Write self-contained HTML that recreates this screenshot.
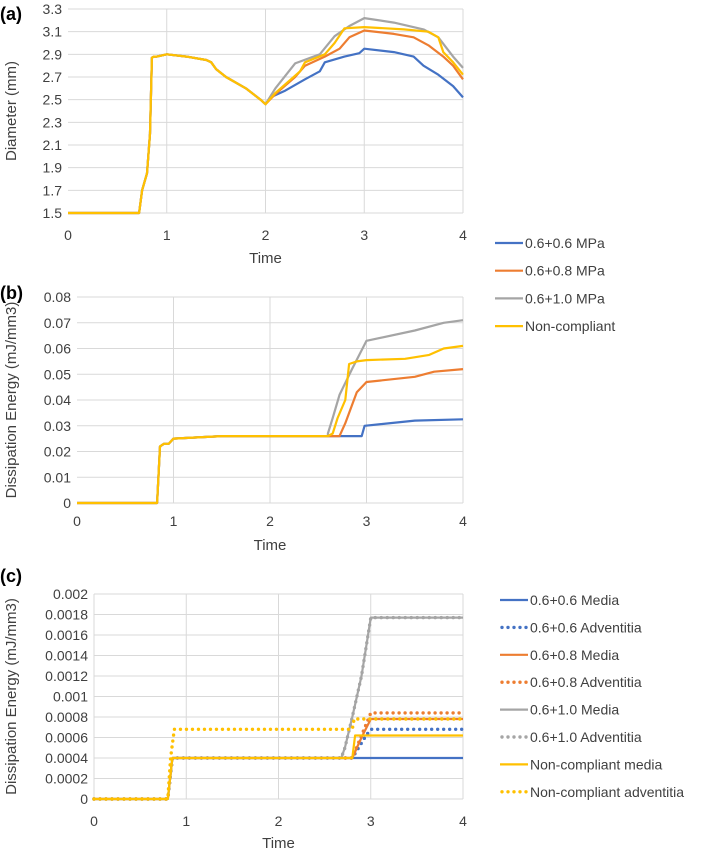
<!DOCTYPE html>
<html><head><meta charset="utf-8"><style>
body{margin:0;background:#fff;}
svg{display:block;font-family:"Liberation Sans",sans-serif;}
</style></head><body>
<svg id="fig" width="709" height="855" viewBox="0 0 709 855"></svg>
<script>
// ----- Panel (a) data: Diameter (mm) -----
const aTimeCommon=[0,0.72,0.75,0.8,0.83,0.85,0.87,0.9,1.0,1.2,1.4,1.45,1.5,1.6,1.8,1.95,2.0];
const aValCommon=[1.5,1.5,1.7,1.85,2.2,2.87,2.88,2.88,2.9,2.88,2.85,2.83,2.77,2.7,2.6,2.5,2.46];
const aBlueT=[2.05,2.2,2.4,2.55,2.6,2.8,2.95,3.0,3.3,3.5,3.6,3.75,3.9,4.0];
const aBlueV=[2.52,2.58,2.68,2.75,2.83,2.88,2.91,2.95,2.92,2.88,2.8,2.72,2.62,2.52];
const aOrangeT=[2.1,2.3,2.4,2.6,2.75,2.85,3.0,3.3,3.5,3.65,3.8,3.9,4.0];
const aOrangeV=[2.55,2.7,2.8,2.88,2.95,3.05,3.11,3.08,3.05,2.98,2.88,2.8,2.68];
const aGrayT=[2.1,2.3,2.55,2.7,2.85,3.0,3.3,3.6,3.75,3.9,4.0];
const aGrayV=[2.6,2.82,2.9,3.06,3.15,3.22,3.18,3.12,3.05,2.88,2.78];
const aYellowT=[2.1,2.35,2.4,2.6,2.7,2.8,3.0,3.4,3.65,3.75,3.8,3.9,4.0];
const aYellowV=[2.56,2.75,2.83,2.9,3.0,3.13,3.14,3.12,3.1,3.05,2.92,2.83,2.72];
const aYTicks=[1.5,1.7,1.9,2.1,2.3,2.5,2.7,2.9,3.1,3.3];
// ----- Panel (b) data: Dissipation energy -----
const bTimeCommon=[0,0.83,0.86,0.9,0.95,1.0,1.5,2.6];
const bValCommon=[0,0,0.022,0.023,0.023,0.025,0.026,0.026];
const bBlueT=[2.95,2.98,3.5,4];
const bBlueV=[0.026,0.030,0.032,0.0325];
const bOrangeT=[2.72,2.78,2.85,2.9,3.0,3.5,3.7,4];
const bOrangeV=[0.026,0.031,0.038,0.043,0.047,0.049,0.051,0.052];
const bGrayT=[2.6,2.65,2.72,2.85,3.0,3.5,3.8,4];
const bGrayV=[0.027,0.033,0.042,0.052,0.063,0.067,0.070,0.071];
const bYellowT=[2.65,2.7,2.78,2.82,2.9,3.0,3.4,3.65,3.8,4];
const bYellowV=[0.027,0.033,0.04,0.054,0.055,0.0555,0.056,0.0575,0.060,0.061];
const bYTicks=[0,0.01,0.02,0.03,0.04,0.05,0.06,0.07,0.08];
// ----- Panel (c) data -----
const cBlueMediaT=[0,0.8,0.85,4];
const cBlueMediaV=[0,0,0.0004,0.0004];
const cBlueAdvT=[0,0.8,0.85,2.8,2.95,3.0,4];
const cBlueAdvV=[0,0,0.0004,0.0004,0.00062,0.00068,0.00068];
const cOrangeMediaT=[0,0.8,0.85,2.8,2.9,3.0,4];
const cOrangeMediaV=[0,0,0.0004,0.0004,0.0006,0.00078,0.00078];
const cOrangeAdvT=[0,0.8,0.85,2.8,3.0,4];
const cOrangeAdvV=[0,0,0.0004,0.0004,0.00084,0.00084];
const cGrayMediaT=[0,0.8,0.85,2.68,2.72,2.8,2.9,3.0,4];
const cGrayMediaV=[0,0,0.0004,0.0004,0.0005,0.0008,0.0012,0.00177,0.00177];
const cGrayAdvT=[0,0.8,0.85,2.68,2.72,2.8,2.9,3.0,4];
const cGrayAdvV=[0,0,0.0004,0.0004,0.0005,0.0008,0.0012,0.00177,0.00177];
const cYellowMediaT=[0,0.8,0.85,2.8,2.83,4];
const cYellowMediaV=[0,0,0.0004,0.0004,0.00062,0.00062];
const cYellowAdvT=[0,0.8,0.83,0.87,2.8,2.82,4];
const cYellowAdvV=[0,0,0.0004,0.00068,0.00068,0.00078,0.00078];
const cYTicks=[0,0.0002,0.0004,0.0006,0.0008,0.001,0.0012,0.0014,0.0016,0.0018,0.002];
const xTicks=[0,1,2,3,4];

const C={blue:'#4472C4',orange:'#ED7D31',gray:'#A5A5A5',yellow:'#FFC000'};
const NS='http://www.w3.org/2000/svg';
const svg=document.getElementById('fig');
function mk(tag,attrs,parent,text){const e=document.createElementNS(NS,tag);for(const k in attrs)e.setAttribute(k,attrs[k]);if(text!==undefined)e.textContent=text;(parent||svg).appendChild(e);return e;}

function panel(p){
  const g=mk('g',{});
  
  
  const sx=t=>p.x0+(t-0)/(4-0)*(p.x1-p.x0);
  const yMin=p.yt[0],yMax=p.yt[p.yt.length-1];
  const sy=v=>p.y0-(v-yMin)/(yMax-yMin)*(p.y0-p.y1);
  p.yt.forEach(v=>{
    const l=mk('line',{x1:p.x0,x2:p.x1,y1:sy(v),y2:sy(v),stroke:'#d9d9d9','stroke-width':1},g);
    
    
    const t=mk('text',{x:p.x0-6,y:sy(v)+5,'text-anchor':'end','font-size':14,fill:'#404040'},g,p.fmt(v));
    
    
  });
  xTicks.forEach(v=>{
    if(v>0||p.box){
      const l=mk('line',{x1:sx(v),x2:sx(v),y1:p.y1,y2:p.y0,stroke:'#d9d9d9','stroke-width':1},g);
      
      
    }
    const t=mk('text',{x:sx(v),y:p.xly,'text-anchor':'middle','font-size':14,fill:'#404040'},g,String(v));
    
    
  });
  const xt=mk('text',{x:(p.x0+p.x1)/2,y:p.xty,'text-anchor':'middle','font-size':15,fill:'#404040'},g,'Time');
  
  
  const yt=mk('text',{x:0,y:0,transform:`translate(${p.ytx},${(p.y0+p.y1)/2}) rotate(-90)`,'text-anchor':'middle','font-size':15,fill:'#404040'},g,p.ylabel);
  
  
  const pl=mk('text',{x:0,y:p.ly,'font-size':18,'font-weight':'bold',fill:'#000'},g,p.label);
  
  
  p.series.forEach(s=>{
    const pts=s.t.map((t,i)=>sx(t).toFixed(1)+','+sy(s.v[i]).toFixed(1)).join(' ');
    const a={points:pts,fill:'none',stroke:s.c,'stroke-width':2.2,'stroke-linejoin':'round'};
    if(s.dot){a['stroke-dasharray']='0 6';a['stroke-linecap']='round';a['stroke-width']=3.4;}
    const e=mk('polyline',a,g);
    
    
  });
}
const cat=(a,b)=>a.concat(b);
panel({name:'panel-a-diameter',label:'(a)',ly:20,x0:68,x1:463,y0:213,y1:9,xly:240,xty:263,ytx:16,ylabel:'Diameter (mm)',yt:aYTicks,fmt:v=>v.toFixed(1),
series:[
 {id:'line-0.6-0.6',c:C.blue,t:cat(aTimeCommon,aBlueT),v:cat(aValCommon,aBlueV)},
 {id:'line-0.6-0.8',c:C.orange,t:cat(aTimeCommon,aOrangeT),v:cat(aValCommon,aOrangeV)},
 {id:'line-0.6-1.0',c:C.gray,t:cat(aTimeCommon,aGrayT),v:cat(aValCommon,aGrayV)},
 {id:'line-non-compliant',c:C.yellow,t:cat(aTimeCommon,aYellowT),v:cat(aValCommon,aYellowV)}]});
panel({name:'panel-b-energy',label:'(b)',ly:299,x0:77,x1:463,y0:503,y1:297,xly:526,xty:550,ytx:16,ylabel:'Dissipation Energy (mJ/mm3)',yt:bYTicks,fmt:v=>v===0?'0':v.toFixed(2),
series:[
 {id:'line-0.6-0.6',c:C.blue,t:cat(bTimeCommon,bBlueT),v:cat(bValCommon,bBlueV)},
 {id:'line-0.6-0.8',c:C.orange,t:cat(bTimeCommon,bOrangeT),v:cat(bValCommon,bOrangeV)},
 {id:'line-0.6-1.0',c:C.gray,t:cat(bTimeCommon,bGrayT),v:cat(bValCommon,bGrayV)},
 {id:'line-non-compliant',c:C.yellow,t:cat(bTimeCommon,bYellowT),v:cat(bValCommon,bYellowV)}]});
panel({name:'panel-c-energy-layers',label:'(c)',ly:582,box:true,x0:94,x1:463,y0:799,y1:594,xly:826,xty:848,ytx:16,ylabel:'Dissipation Energy (mJ/mm3)',yt:cYTicks,fmt:v=>v===0?'0':String(+v.toFixed(4)),
series:[
 {id:'line-0.6-0.6-media',c:C.blue,t:cBlueMediaT,v:cBlueMediaV},
 {id:'line-0.6-0.6-adventitia',c:C.blue,dot:1,t:cBlueAdvT,v:cBlueAdvV},
 {id:'line-0.6-0.8-media',c:C.orange,t:cOrangeMediaT,v:cOrangeMediaV},
 {id:'line-0.6-0.8-adventitia',c:C.orange,dot:1,t:cOrangeAdvT,v:cOrangeAdvV},
 {id:'line-0.6-1.0-media',c:C.gray,t:cGrayMediaT,v:cGrayMediaV},
 {id:'line-0.6-1.0-adventitia',c:C.gray,dot:1,t:cGrayAdvT,v:cGrayAdvV},
 {id:'line-non-compliant-media',c:C.yellow,t:cYellowMediaT,v:cYellowMediaV},
 {id:'line-non-compliant-adventitia',c:C.yellow,dot:1,t:cYellowAdvT,v:cYellowAdvV}]});

function legend(items,x,y0,dy,name){
  const g=mk('g',{});
  
  
  items.forEach((it,i)=>{
    const y=y0+i*dy;
    const a={x1:x,x2:x+28,y1:y,y2:y,stroke:it[1],'stroke-width':2.2};
    if(it[2]){a['stroke-dasharray']='0 6';a['stroke-linecap']='round';a['stroke-width']=3.4;a.x1=x+2;}
    const l=mk('line',a,g);
    
    
    const t=mk('text',{x:x+30,y:y+5,'font-size':14,fill:'#404040'},g,it[0]);
    
    
  });
}
legend([['0.6+0.6 MPa',C.blue],['0.6+0.8 MPa',C.orange],['0.6+1.0 MPa',C.gray],['Non-compliant',C.yellow]],495,243,27.7,'legend-ab');
legend([['0.6+0.6 Media',C.blue],['0.6+0.6 Adventitia',C.blue,1],['0.6+0.8 Media',C.orange],['0.6+0.8 Adventitia',C.orange,1],['0.6+1.0 Media',C.gray],['0.6+1.0 Adventitia',C.gray,1],['Non-compliant media',C.yellow],['Non-compliant adventitia',C.yellow,1]],500,600,27.4,'legend-c');
</script>
</body></html>
